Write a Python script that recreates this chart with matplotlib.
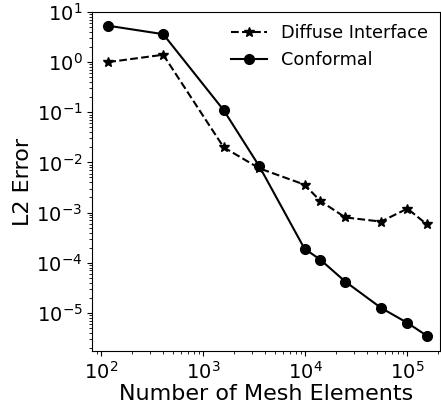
import matplotlib
matplotlib.use("Agg")
import matplotlib.pyplot as plt

# mesh sizes and L2 errors
n_elements = [117, 404, 1580, 3540, 9800, 14000, 24600, 55000, 100000, 155000]
diffuse_err = [1.0, 1.4, 0.02, 0.0076, 0.0036, 0.0017, 8.0e-4, 6.6e-4, 1.2e-3, 5.8e-4]
conformal_err = [5.3, 3.6, 0.11, 0.0083, 1.9e-4, 1.15e-4, 4.2e-5, 1.26e-5, 6.3e-6, 3.5e-6]

fig = plt.figure(figsize=(4.41, 4.11), dpi=100)
ax = fig.add_axes([0.209, 0.146, 0.789, 0.825])

ax.loglog(n_elements, diffuse_err, 'k--', marker='*', markersize=7, label="Diffuse Interface")
ax.loglog(n_elements, conformal_err, 'k-', marker='o', markersize=7, label="Conformal")

ax.set_xlim(10**1.91, 10**5.32)
ax.set_ylim(10**-5.76, 10**1.0)
ax.set_xlabel("Number of Mesh Elements", fontsize=16, labelpad=1)
ax.set_ylabel("L2 Error", fontsize=16, labelpad=2)
ax.tick_params(labelsize=14)
ax.legend(loc="upper right", frameon=False, fontsize=12.7, borderaxespad=0.3)

fig.savefig("out.png", dpi=100)
